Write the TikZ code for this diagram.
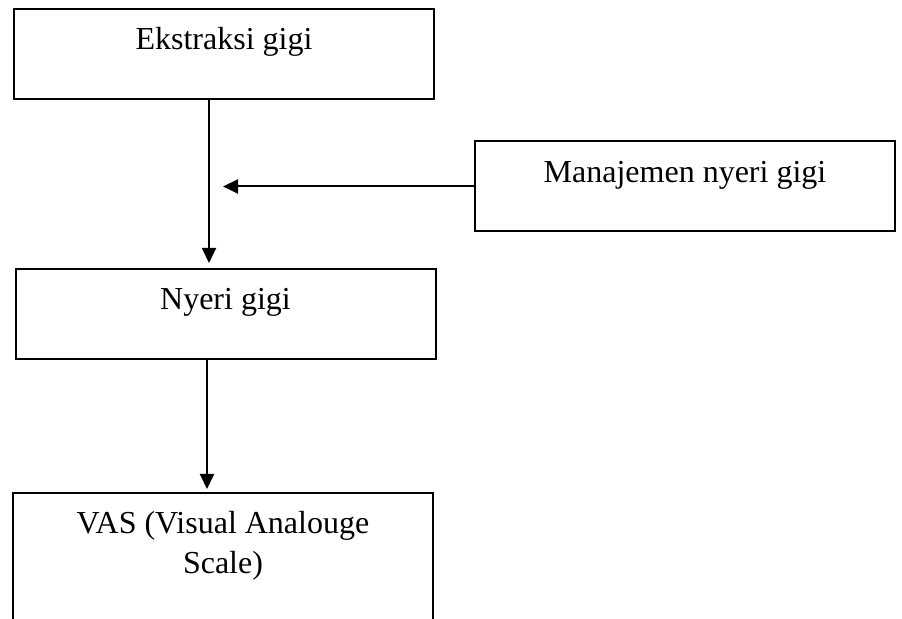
\documentclass[tikz,border=0pt]{standalone}
\usepackage{fontspec}
\setmainfont{Liberation Serif}
\usetikzlibrary{positioning, arrows.meta}

\begin{document}
\begin{tikzpicture}[x=0.5pt,y=-0.5pt,>={Triangle[length=7.5pt,width=7pt]},
        box/.style={rectangle, draw, line width=1pt, inner sep=0pt, minimum width=210pt,
            text height=20.5pt, text depth=24.5pt, align=center,
            font=\fontsize{16pt}{20pt}\selectfont},
        arrow/.style={->, line width=1pt}]
        \useasboundingbox (0,0) rectangle (902,619);
        \clip (0,0) rectangle (902,619);

        \node at (224,54) [box] (ekstraksi) {Ekstraksi gigi};
        \node at (685,186.5) [box] (manajemen) {Manajemen nyeri gigi};
        \node at (225.5,314) [box] (nyeri) {Nyeri gigi};
        \node at (223,492) [box, anchor=north, text height=40.5pt, text depth=40pt] (vas) {VAS (Visual Analouge\\Scale)};

        \draw[arrow, shorten >=2.5pt] ([xshift=-7.5pt]ekstraksi.south) coordinate (stem1) -- (stem1 |- nyeri.north);
        \draw[arrow, shorten >=7pt] (manajemen.west) -- (manajemen.west -| stem1);
        \draw[arrow, shorten >=1.5pt] ([xshift=-9.25pt]nyeri.south) coordinate (stem2) -- (stem2 |- vas.north);
    \end{tikzpicture}
\end{document}
